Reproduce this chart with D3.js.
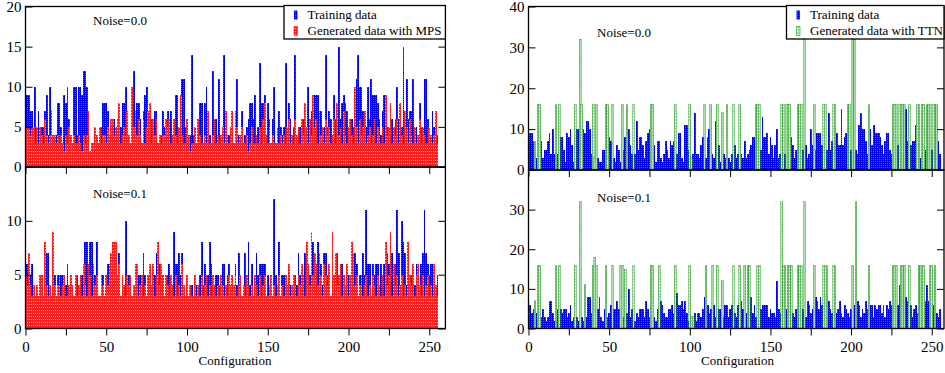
<!DOCTYPE html>
<html>
<head>
<meta charset="utf-8">
<script src="https://cdn.jsdelivr.net/npm/d3@7"></script>
<style>
  body { margin: 0; background: #fff; }
  text { font-family: "Liberation Serif", "DejaVu Serif", serif; }
</style>
</head>
<body>
<script>
// configurations 0..255 on the x axis
const configs = d3.range(256);

// training data, noise 0.0 (same set in both columns)
const trainNoise0 = [
  9,9,9,7,7,3,10,4,7,3,5,5,7,9,4,10,
  4,3,4,4,8,8,5,2,9,8,10,6,2,3,10,10,
  4,10,10,9,12,12,10,4,2,3,2,3,2,2,5,5,
  8,8,8,7,2,3,2,6,5,2,5,5,8,8,10,6,
  4,3,4,12,5,8,8,6,3,7,9,10,3,3,6,2,
  7,7,3,2,4,7,5,3,7,6,7,2,4,9,9,3,
  2,11,11,5,3,2,4,14,4,4,3,6,8,8,3,8,
  10,6,4,3,12,6,6,2,11,4,3,14,3,2,4,4,
  6,3,4,11,4,3,7,3,4,5,6,8,8,6,9,4,
  5,13,8,8,9,4,8,6,3,6,10,3,4,7,5,4,
  5,13,4,8,6,3,5,14,4,3,5,4,6,3,4,10,
  6,7,5,9,9,9,6,7,5,5,14,5,7,6,4,9,
  6,6,15,6,8,9,8,7,5,4,6,5,4,11,14,10,
  10,7,4,5,10,6,11,9,9,9,8,6,4,7,9,9,
  5,4,8,6,4,6,10,6,5,5,15,7,11,6,7,7,
  11,4,5,3,8,5,5,11,11,6,5,4,7,5,7,4
];

// training data, noise 0.1
const trainNoise1 = [
  6,6,4,5,6,4,3,2,3,5,3,2,3,7,7,4,
  2,5,5,3,5,4,5,5,3,4,6,2,3,2,3,2,
  5,3,2,5,3,8,8,4,8,8,6,5,8,3,2,5,
  5,3,4,6,3,5,5,7,5,4,7,3,5,4,10,3,
  5,3,2,4,3,5,5,5,3,7,5,3,2,3,3,2,
  5,7,7,6,4,3,3,5,5,6,4,2,9,6,6,7,
  5,7,4,2,3,2,3,4,2,4,4,3,5,8,4,6,
  4,5,8,6,3,4,5,5,4,3,6,6,3,5,6,4,
  4,3,6,4,7,5,3,4,7,5,8,4,6,3,4,7,
  5,6,6,6,6,3,5,4,4,3,12,5,4,8,3,5,
  5,3,4,5,4,3,5,5,4,7,5,4,3,7,6,4,
  5,8,8,7,5,8,6,6,4,7,7,5,4,3,6,4,
  5,7,4,3,6,5,4,3,5,4,6,5,7,6,3,5,
  4,7,5,11,6,6,3,6,5,6,6,4,6,3,6,5,
  7,6,4,7,5,6,11,7,4,10,8,7,4,6,3,5,
  6,4,6,5,3,6,7,11,7,6,5,6,6,4,3,5
];

// generated with MPS
const mpsNoise0 = [
  4,5,5,4,5,5,3,5,3,5,4,3,6,4,3,4,
  7,4,4,3,4,3,4,3,2,4,3,5,4,3,4,3,
  3,4,3,2,4,3,4,7,2,3,3,5,4,3,5,3,
  4,4,3,5,4,6,6,4,5,6,8,3,4,5,4,7,
  4,3,10,5,7,4,6,4,3,6,3,5,7,8,3,6,
  4,6,3,4,3,4,4,6,5,6,3,4,6,4,3,5,
  9,4,3,3,6,4,2,3,3,5,3,6,4,3,3,4,
  3,7,3,3,4,6,3,4,3,4,5,3,7,4,3,5,
  7,3,7,5,3,4,5,3,3,4,2,3,5,3,3,4,
  3,5,3,6,8,4,3,5,3,4,3,3,5,3,4,3,
  4,3,5,6,3,4,3,6,4,5,3,6,4,8,5,3,
  6,4,9,5,6,3,7,4,5,3,6,4,5,3,4,6,
  3,8,4,5,3,7,4,3,5,6,4,3,10,5,3,6,
  4,5,7,3,4,5,3,4,6,3,5,4,3,5,3,9,
  4,5,8,3,5,4,6,3,8,4,3,7,5,3,6,4,
  3,5,3,4,6,3,5,4,3,3,5,4,3,4,7,3
];

const mpsNoise1 = [
  5,4,7,4,3,4,3,4,3,5,5,3,8,4,3,4,
  3,9,4,3,4,5,3,4,5,3,3,4,5,4,3,5,
  3,4,5,3,6,4,3,6,5,3,6,4,5,3,3,5,
  4,3,5,4,6,7,8,8,8,5,6,3,5,4,3,5,
  4,5,3,4,6,6,3,4,5,3,4,3,5,6,4,6,
  3,5,8,4,6,5,3,5,4,3,5,4,3,5,3,4,
  3,6,4,3,5,3,4,3,3,5,3,4,3,5,3,4,
  5,3,4,3,5,4,3,4,3,5,4,3,4,3,5,4,
  5,4,5,3,4,5,3,4,3,5,4,3,4,3,5,4,
  3,5,3,4,5,3,3,4,5,3,4,3,4,5,3,4,
  3,5,4,6,3,4,5,4,3,5,4,6,5,3,8,6,
  4,9,5,7,6,4,7,5,3,6,5,4,6,3,9,5,
  7,4,5,6,3,5,4,6,3,5,8,7,4,5,3,4,
  5,3,4,5,3,4,3,5,4,3,5,4,3,5,3,8,
  4,5,9,3,6,4,5,3,4,5,3,4,3,8,5,4,
  6,3,5,6,4,3,5,3,4,5,3,4,3,6,4,3
];

// generated with TTN
const ttnNoise0 = [
  0,0,0,0,7,0,16,16,0,0,0,0,0,0,0,0,
  0,16,0,16,0,0,0,0,0,0,0,0,0,16,0,0,
  32,16,0,0,0,0,0,0,16,3,16,0,0,0,0,0,
  16,16,0,0,16,0,0,0,0,0,16,0,0,16,0,0,
  0,16,0,0,0,0,0,0,0,0,0,0,16,16,0,0,
  0,0,0,0,0,0,0,0,0,0,0,16,0,0,0,0,
  0,0,0,0,16,3,0,0,0,0,0,0,0,16,0,0,
  0,16,0,0,0,16,0,0,14,0,0,16,0,0,0,16,
  0,0,0,16,0,0,0,0,0,0,0,0,0,16,16,16,
  0,0,0,0,0,0,0,0,0,0,0,0,0,16,16,0,
  16,16,16,0,0,0,0,16,16,16,0,32,0,0,0,0,
  0,16,0,0,0,0,0,16,16,0,0,0,0,16,16,0,
  0,0,0,0,0,0,16,16,0,32,32,0,0,0,0,0,
  0,0,0,16,0,0,0,0,0,0,0,0,0,0,0,0,
  0,0,16,16,16,0,16,16,16,16,0,0,16,0,0,0,
  0,16,16,0,16,16,0,16,16,16,0,16,16,16,0,0
];

const ttnNoise1 = [
  0,0,0,0,7,0,16,16,0,0,0,0,0,0,0,0,
  0,16,0,16,0,0,0,0,0,0,0,0,0,16,0,0,
  32,0,0,11,0,0,0,0,16,18,16,0,0,0,0,0,
  16,0,0,0,16,0,0,0,0,16,16,0,15,0,0,0,
  0,16,0,0,0,0,0,0,0,0,0,0,16,16,0,0,
  0,16,0,0,0,0,0,0,0,0,0,16,0,0,0,0,
  0,0,0,0,16,3,3,0,0,0,0,0,0,0,16,0,
  0,0,16,0,0,16,0,0,12,0,0,0,0,0,0,16,
  0,0,0,16,0,0,16,0,16,16,0,0,0,0,16,16,
  0,0,0,0,0,0,0,0,0,0,0,0,0,32,16,16,
  0,16,16,16,0,0,0,16,16,16,0,32,0,0,0,0,
  0,16,0,0,0,0,0,16,16,16,0,0,0,16,16,0,
  0,0,0,0,0,0,0,0,0,16,0,32,0,0,0,0,
  0,0,0,16,0,0,0,0,0,0,0,0,0,0,0,0,
  0,0,16,16,16,0,0,16,16,16,0,0,16,0,0,0,
  0,0,16,16,16,16,0,0,0,16,16,0,16,0,0,0
];

const xTicks = [0, 25, 50, 75, 100, 125, 150, 175, 200, 225, 250];
const xTickLabels = [0, 50, 100, 150, 200, 250];
const leftTopTicks = [0, 5, 10, 15, 20];
const leftBottomTicks = [0, 5, 10, 15];
const leftBottomLabels = [0, 5, 10];
const rightTopTicks = [0, 10, 20, 30, 40];
const rightBottomTicks = [0, 10, 20, 30, 40];
const rightBottomLabels = [0, 10, 20, 30];

const legendLeft = ['Training data', 'Generated data with MPS'];
const legendRight = ['Training data', 'Generated data with TTN'];

const width = 945, height = 373;
const svg = d3.select('body').append('svg')
  .attr('width', width).attr('height', height);

// fill patterns, grace-like
const defs = svg.append('defs');
function pattern(id, w, h, bg, dot) {
  const p = defs.append('pattern').attr('id', id)
    .attr('patternUnits', 'userSpaceOnUse').attr('width', w).attr('height', h);
  p.append('rect').attr('width', w).attr('height', h).attr('fill', bg);
  p.append('rect').attr('x', 1).attr('y', 1).attr('width', 1).attr('height', 1).attr('fill', dot);
}
pattern('pBlue', 2, 2, '#0000ff', '#5050ff');
pattern('pRed', 2, 3, '#ff1f1f', '#ffb4b4');
pattern('pGreen', 2, 3, '#a8dca8', '#ffffff');

const xL = d3.scaleLinear().domain([0, 260]).range([25.5, 445.4]);
const xR = d3.scaleLinear().domain([0, 257.6]).range([528.5, 944]);

const panels = [
  { id: 'lt', x: xL, y: d3.scaleLinear().domain([0, 20]).range([167, 6.5]),
    train: trainNoise0, gen: mpsNoise0, fill: 'url(#pRed)', stroke: 'none',
    ticks: leftTopTicks, labels: leftTopTicks, bottom: false,
    noise: 'Noise=0.0', nx: 93, ny: 25 },
  { id: 'lb', x: xL, y: d3.scaleLinear().domain([0, 15]).range([328.5, 167]),
    train: trainNoise1, gen: mpsNoise1, fill: 'url(#pRed)', stroke: 'none',
    ticks: leftBottomTicks, labels: leftBottomLabels, bottom: true,
    noise: 'Noise=0.1', nx: 93, ny: 198 },
  { id: 'rt', x: xR, y: d3.scaleLinear().domain([0, 40]).range([170, 6.5]),
    train: trainNoise0, gen: ttnNoise0, fill: 'url(#pGreen)', stroke: '#1f9a1f',
    ticks: rightTopTicks, labels: rightTopTicks, bottom: false,
    noise: 'Noise=0.0', nx: 597, ny: 36.5 },
  { id: 'rb', x: xR, y: d3.scaleLinear().domain([0, 40]).range([328.5, 170]),
    train: trainNoise1, gen: ttnNoise1, fill: 'url(#pGreen)', stroke: '#1f9a1f',
    ticks: rightBottomTicks, labels: rightBottomLabels, bottom: true,
    noise: 'Noise=0.1', nx: 597, ny: 201.5 }
];

panels.forEach(p => {
  const [x0, x1] = p.x.range();
  const [y0, y1] = p.y.range(); // y0 bottom, y1 top
  const bw = p.x(1) - p.x(0);

  defs.append('clipPath').attr('id', 'clip-' + p.id)
    .append('rect').attr('x', x0).attr('y', y1).attr('width', x1 - x0).attr('height', y0 - y1);

  const g = svg.append('g').attr('clip-path', `url(#clip-${p.id})`)
    .attr('shape-rendering', 'crispEdges');

  g.selectAll('rect.train').data(configs).enter().append('rect')
    .attr('class', 'train')
    .attr('x', c => p.x(c) - bw / 2).attr('width', bw + 0.2)
    .attr('y', c => p.y(p.train[c])).attr('height', c => p.y(0) - p.y(p.train[c]))
    .attr('fill', 'url(#pBlue)');

  g.selectAll('rect.gen').data(configs.filter(c => p.gen[c] > 0)).enter().append('rect')
    .attr('class', 'gen')
    .attr('x', c => p.x(c) - bw / 2).attr('width', bw + 0.2)
    .attr('y', c => p.y(p.gen[c])).attr('height', c => p.y(0) - p.y(p.gen[c]))
    .attr('fill', p.fill)
    .attr('stroke', p.stroke).attr('stroke-width', 0.5);

  // y axes, ticks pointing in
  const yl = svg.append('g').attr('transform', `translate(${x0},0)`)
    .call(d3.axisLeft(p.y).tickValues(p.ticks).tickSize(-7).tickPadding(4)
      .tickFormat(d => p.labels.includes(d) ? d : ''));
  const yr = svg.append('g').attr('transform', `translate(${x1},0)`)
    .call(d3.axisRight(p.y).tickValues(p.ticks).tickSize(-7).tickFormat(''));

  // x axis, ticks pointing out
  const xa = svg.append('g').attr('transform', `translate(0,${y0})`)
    .call(d3.axisBottom(p.x).tickValues(xTicks).tickSize(7).tickPadding(5.5)
      .tickFormat(d => p.bottom && xTickLabels.includes(d) ? d : ''));

  [yl, yr, xa].forEach(a => {
    a.select('.domain').remove();
    a.selectAll('line').attr('stroke', '#000').attr('stroke-width', 1);
    a.selectAll('text').attr('fill', '#000')
      .style('font-family', '"Liberation Serif", serif').style('font-size', '15px');
  });

  svg.append('rect')
    .attr('x', x0).attr('y', y1).attr('width', x1 - x0).attr('height', y0 - y1)
    .attr('fill', 'none').attr('stroke', '#000').attr('stroke-width', 1.3);

  svg.append('text').attr('x', p.nx).attr('y', p.ny)
    .attr('font-size', 13).attr('fill', '#000').text(p.noise);
});

// x axis titles
[[xL, 235], [xR, 737.5]].forEach(([sc, cx]) => {
  svg.append('text').attr('x', cx).attr('y', 365)
    .attr('text-anchor', 'middle').attr('font-size', 13).text('Configuration');
});

// legends
function legend(x, xRight, labels, genFill, genStroke) {
  const g = svg.append('g');
  g.append('rect').attr('x', x).attr('y', 5.5).attr('width', xRight - x).attr('height', 33.5)
    .attr('fill', '#fff').attr('stroke', '#000').attr('stroke-width', 1.3);
  const fills = ['url(#pBlue)', genFill];
  const strokes = ['none', genStroke];
  labels.forEach((t, i) => {
    g.append('rect').attr('x', x + 10).attr('y', 10.5 + i * 16).attr('width', 3.5).attr('height', 9)
      .attr('fill', fills[i]).attr('stroke', strokes[i]).attr('stroke-width', 0.6);
    g.append('text').attr('x', x + 23.5).attr('y', 19 + i * 15.5)
      .attr('font-size', 13).attr('fill', '#000').text(t);
  });
}
legend(284, 445.4, legendLeft, 'url(#pRed)', '#ff1f1f');
legend(786.5, 944, legendRight, 'url(#pGreen)', '#1f9a1f');
</script>
</body>
</html>
